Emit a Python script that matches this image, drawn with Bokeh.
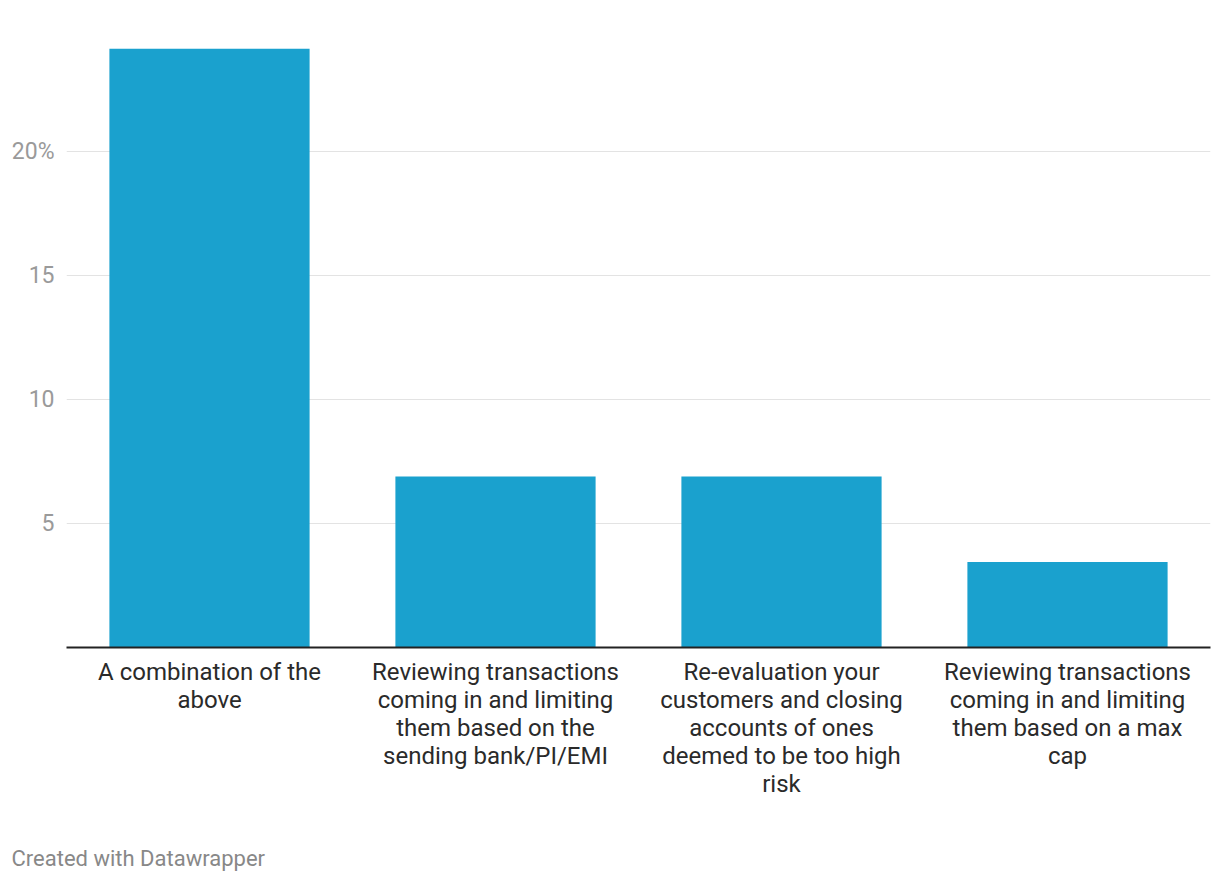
from bokeh.plotting import figure
from bokeh.models import Range1d, FixedTicker, Title, ColumnDataSource
from bokeh.embed import file_html
from bokeh.resources import INLINE

categories = [
    "A combination of the\nabove",
    "Reviewing transactions\ncoming in and limiting\nthem based on the\nsending bank/PI/EMI",
    "Re-evaluation your\ncustomers and closing\naccounts of ones\ndeemed to be too high\nrisk",
    "Reviewing transactions\ncoming in and limiting\nthem based on a max\ncap",
]
values = [24.14, 6.9, 6.9, 3.45]
y_ticks = [0, 5, 10, 15, 20]
y_tick_labels = ["", "5", "10", "15", "20%"]

src = ColumnDataSource(dict(cat=categories, val=values))

p = figure(x_range=categories, y_range=Range1d(0, 24.96),
           frame_width=1144, frame_height=619,
           min_border_left=66, min_border_right=2, min_border_top=28, min_border_bottom=0,
           output_backend="svg", toolbar_location=None)
p.outline_line_color = None
p.background_fill_color = "white"
p.border_fill_color = "white"

p.vbar(x="cat", top="val", width=0.7, source=src, color="#1aa1ce", line_color=None)

p.xgrid.grid_line_color = None
p.ygrid.grid_line_color = "#e3e3e3"
p.ygrid.grid_line_width = 1
p.yaxis.ticker = FixedTicker(ticks=y_ticks)
p.yaxis.major_label_overrides = {t: l for t, l in zip(y_ticks, y_tick_labels)}
p.yaxis.axis_line_color = None
p.yaxis.major_tick_line_color = None
p.yaxis.minor_tick_line_color = None
p.yaxis.major_tick_out = 0
p.yaxis.major_label_standoff = 12
p.yaxis.major_label_text_font = "Roboto"
p.yaxis.major_label_text_font_size = "23px"
p.yaxis.major_label_text_color = "#9a9a9a"

p.xaxis.axis_line_color = "#222222"
p.xaxis.axis_line_width = 2
p.xaxis.major_tick_line_color = None
p.xaxis.major_tick_out = 0
p.xaxis.major_label_standoff = 10
p.xaxis.major_label_text_font = "Roboto"
p.xaxis.major_label_text_font_size = "24px"
p.xaxis.major_label_text_color = "#2a2a2a"
p.xaxis.major_label_text_line_height = 1.0

footer = Title(text="Created with Datawrapper", align="left", offset=-55,
               text_font="Roboto", text_font_size="22px", text_font_style="normal",
               text_color="#888888", standoff=86)
p.add_layout(footer, "below")

open("out.html", "w").write(file_html(p, INLINE))
